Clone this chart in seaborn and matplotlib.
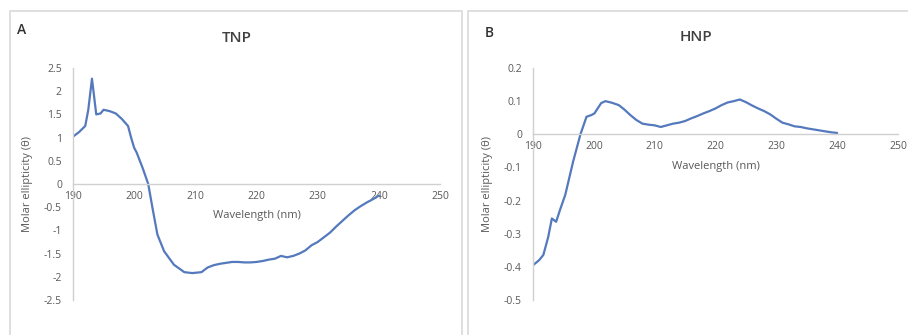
import numpy as np
import pandas as pd
import matplotlib
matplotlib.use("Agg")
import matplotlib.pyplot as plt
from matplotlib.patches import Rectangle
import seaborn as sns

# ---- data ----
tnp_wl = [190, 191, 192, 192.5, 193.1, 193.8, 194.5, 195, 196, 197, 198, 199, 199.5,
          200, 200.4, 201.4, 202.3, 203, 203.8, 204.9, 206.5, 208.2, 209.5, 211, 212, 213,
          214, 215, 216, 217, 218, 219, 220, 221, 222, 223, 224, 225, 226, 227, 228,
          229, 230, 231, 232, 233, 234, 235, 236, 237, 238, 239, 240]
tnp_val = [1.02, 1.12, 1.25, 1.6, 2.27, 1.5, 1.52, 1.6, 1.57, 1.52, 1.4, 1.25, 1.0,
           0.78, 0.68, 0.34, 0.0, -0.52, -1.09, -1.45, -1.74, -1.9, -1.92, -1.9,
           -1.8, -1.75, -1.72, -1.7, -1.68, -1.68, -1.69, -1.69, -1.68, -1.66, -1.63,
           -1.61, -1.55, -1.58, -1.55, -1.5, -1.43, -1.32, -1.25, -1.15, -1.05, -0.92,
           -0.8, -0.68, -0.57, -0.48, -0.4, -0.33, -0.25]

hnp_wl = [190, 191, 191.7, 192.5, 193.1, 193.8, 194.5, 195.3, 196.6, 197.8, 198.8, 199.6,
          200.1, 201.2, 201.9, 203, 204.1, 205, 206, 207, 208, 209, 210, 211, 212, 213,
          214, 215, 216, 217, 218, 219, 220, 221, 222, 223, 224, 225, 226, 227, 228,
          229, 230, 231, 232, 233, 234, 235, 236, 237, 238, 239, 240]
hnp_val = [-0.395, -0.38, -0.364, -0.31, -0.254, -0.264, -0.225, -0.183, -0.082, 0.0,
           0.053, 0.058, 0.063, 0.094, 0.10, 0.095, 0.088, 0.075, 0.058, 0.043, 0.032,
           0.029, 0.027, 0.022, 0.027, 0.032, 0.035, 0.04, 0.048, 0.055, 0.063, 0.07,
           0.078, 0.088, 0.096, 0.10, 0.105, 0.097, 0.087, 0.078, 0.07, 0.06, 0.047,
           0.035, 0.03, 0.024, 0.022, 0.018, 0.015, 0.012, 0.009, 0.006, 0.004]

x_ticks = [190, 200, 210, 220, 230, 240, 250]
tnp_yticks = [2.5, 2, 1.5, 1, 0.5, 0, -0.5, -1, -1.5, -2, -2.5]
hnp_yticks = [0.2, 0.1, 0, -0.1, -0.2, -0.3, -0.4, -0.5]

sns.set_theme(style="white")
plt.rcParams['font.family'] = ['Open Sans', 'DejaVu Sans']

W, H = 908, 335
fig = plt.figure(figsize=(W / 100, H / 100), dpi=100)

line_color = "#5479BD"
grey = "#D0D0D0"
text_col = "#595959"

def fx(px):
    return px / W

def fy(py):
    return 1 - py / H

# panel frames
for x0, x1 in [(10, 462), (468, 912)]:
    fig.patches.append(Rectangle((fx(x0), fy(340)), fx(x1) - fx(x0), fy(11) - fy(340),
                                 transform=fig.transFigure, fill=False,
                                 edgecolor="#D9D9D9", linewidth=1.2))

def make_panel(rect, wl, vals, yticks, ylim, title, title_xy, letter, letter_xy):
    ax = fig.add_axes(rect)
    df = pd.DataFrame({"wl": wl, "val": vals})
    sns.lineplot(data=df, x="wl", y="val", ax=ax, color=line_color, linewidth=1.6)
    ax.set_xlim(190, 250)
    ax.set_ylim(*ylim)
    ax.set_xticks(x_ticks)
    ax.set_yticks(yticks)
    ax.set_yticklabels([f"{v:g}" for v in yticks])
    for s in ["top", "right"]:
        ax.spines[s].set_visible(False)
    ax.spines["bottom"].set_position(("data", 0))
    ax.spines["bottom"].set_color(grey)
    ax.spines["left"].set_color(grey)
    ax.spines["bottom"].set_linewidth(1.0)
    ax.spines["left"].set_linewidth(1.0)
    ax.tick_params(axis="x", direction="inout", length=4, width=0.8, color=grey,
                   labelsize=7.5, labelcolor=text_col, pad=3)
    ax.tick_params(axis="y", direction="out", length=3, width=0.8, color=grey,
                   labelsize=7.5, labelcolor=text_col, pad=5)
    ax.set_xlabel("Wavelength (nm)", fontsize=8, color=text_col, labelpad=6)
    ax.set_ylabel("Molar ellipticity (\u03b8)", fontsize=8, color=text_col, labelpad=8)
    ax.patch.set_alpha(0)
    fig.text(fx(title_xy[0]), fy(title_xy[1]), title, fontsize=11, color="#404040",
             ha="center", va="center", fontweight="semibold")
    fig.text(fx(letter_xy[0]), fy(letter_xy[1]), letter, fontsize=10, color="#303030",
             ha="center", va="center", fontweight="semibold")
    return ax

make_panel([fx(73), fy(300), fx(440) - fx(73), fy(68) - fy(300)], tnp_wl, tnp_val,
           tnp_yticks, (-2.5, 2.5), "TNP", (237, 38), "A", (22, 30))
make_panel([fx(533), fy(300), fx(898) - fx(533), fy(68) - fy(300)], hnp_wl, hnp_val,
           hnp_yticks, (-0.5, 0.2), "HNP", (696, 37), "B", (489, 33))

fig.savefig("out.png", dpi=100)
